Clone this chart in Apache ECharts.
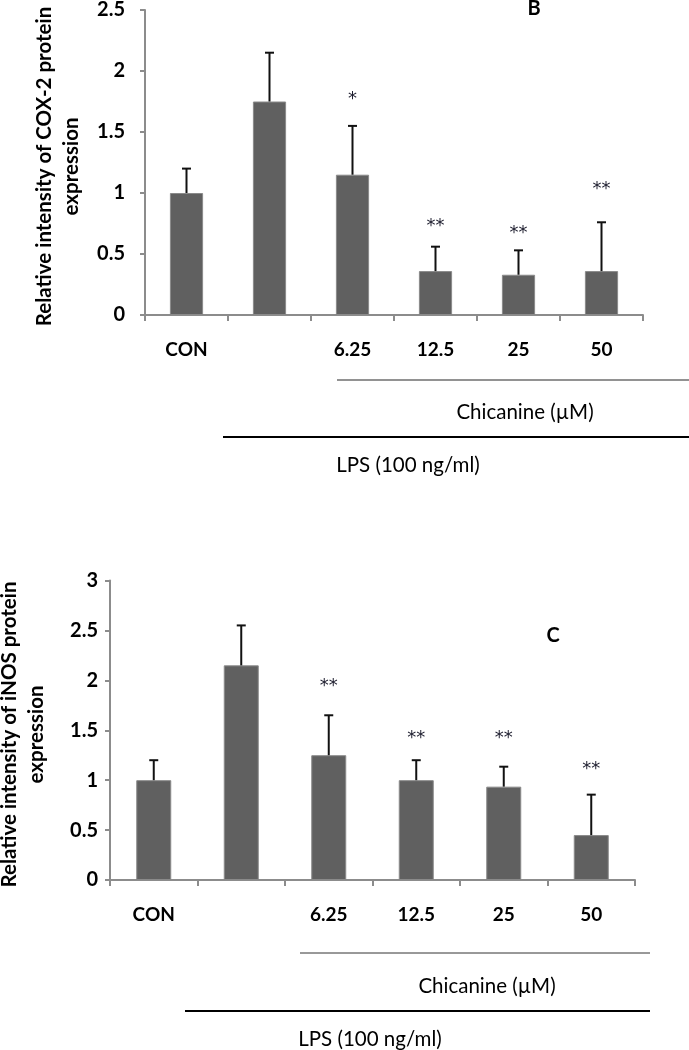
<!DOCTYPE html>
<html>
<head>
<meta charset="utf-8">
<script src="https://cdn.jsdelivr.net/npm/echarts@6/dist/echarts.min.js"></script>
<style>
html,body{margin:0;padding:0;background:#fff;}
#c{width:689px;height:1050px;}
</style>
</head>
<body>
<div id="c"></div>
<script>
// ---- data ----
const categories = ['CON', '', '6.25', '12.5', '25', '50'];
const cox2Values = [1.0, 1.75, 1.15, 0.36, 0.33, 0.36];
const cox2Errors = [0.2, 0.40, 0.40, 0.20, 0.20, 0.40];
const cox2Stars = ['', '', '*', '**', '**', '**'];
const cox2StarY = [0, 0, 1.80, 0.76, 0.70, 1.06];
const inosValues = [1.0, 2.15, 1.25, 1.0, 0.935, 0.45];
const inosErrors = [0.2, 0.40, 0.40, 0.2, 0.20, 0.405];
const inosStars = ['', '', '**', '**', '**', '**'];
const inosStarY = [0, 0, 1.98, 1.46, 1.46, 1.145];
const cox2Ticks = {min: 0, max: 2.5, interval: 0.5};
const inosTicks = {min: 0, max: 3, interval: 0.5};
const cox2Title = 'Relative intensity of COX-2 protein\nexpression';
const inosTitle = 'Relative intensity of iNOS protein\nexpression';
const chicanineLabel = 'Chicanine (\u00b5M)';
const lpsLabel = 'LPS (100 ng/ml)';

const FONT = 'Lato, "Open Sans", sans-serif';
const STARFONT = '"DejaVu Sans", sans-serif';
const chart = echarts.init(document.getElementById('c'), null, {renderer: 'canvas'});

function errRender(params, api) {
  const x = api.value(0), v = api.value(1), e = api.value(2);
  const b = api.coord([x, v]);
  const t = api.coord([x, v + e]);
  const hw = 4.5;
  return {type: 'group', children: [
    {type: 'line', shape: {x1: b[0], y1: b[1], x2: t[0], y2: t[1]}, style: {stroke: '#111', lineWidth: 2}},
    {type: 'line', shape: {x1: t[0] - hw, y1: t[1], x2: t[0] + hw, y2: t[1]}, style: {stroke: '#111', lineWidth: 2}}
  ]};
}
function starRender(params, api) {
  const x = api.value(0), y = api.value(1);
  const s = api.value(2);
  if (!s) return null;
  const p = api.coord([x, y]);
  return {type: 'text', x: p[0], y: p[1] + 4, style: {text: s, align: 'center', verticalAlign: 'middle', font: '18px ' + STARFONT, fill: '#1d1d2e'}};
}

function xAxis(gridIndex) {
  return {
    type: 'category', gridIndex, data: categories,
    axisLine: {lineStyle: {color: '#8c8c8c', width: 2}},
    axisTick: {show: true, alignWithLabel: false, length: 6, lineStyle: {color: '#8c8c8c', width: 2}},
    axisLabel: {margin: 25, fontFamily: FONT, fontWeight: 'bold', fontSize: 19, color: '#000', interval: 0}
  };
}
function yAxis(gridIndex, ticks, margin) {
  return {
    type: 'value', gridIndex, min: ticks.min, max: ticks.max, interval: ticks.interval,
    splitLine: {show: false},
    axisLine: {show: true, lineStyle: {color: '#8c8c8c', width: 2}},
    axisTick: {show: true, length: 5, lineStyle: {color: '#8c8c8c', width: 2}},
    axisLabel: {margin, fontFamily: FONT, fontWeight: 'bold', fontSize: 20, color: '#000'}
  };
}

const barStyle = {color: '#606060', borderColor: '#8a8a8a', borderWidth: 1};

chart.setOption({
  animation: false,
  backgroundColor: '#fff',
  grid: [
    {left: 145, width: 498, top: 7, height: 308},
    {left: 110, width: 525, top: 580.5, height: 299.5}
  ],
  xAxis: [xAxis(0), xAxis(1)],
  yAxis: [yAxis(0, cox2Ticks, 20), yAxis(1, inosTicks, 12)],
  series: [
    {type: 'bar', xAxisIndex: 0, yAxisIndex: 0, data: cox2Values, barWidth: '40%', itemStyle: barStyle},
    {type: 'custom', xAxisIndex: 0, yAxisIndex: 0, renderItem: errRender, encode: {x: 0, y: 1},
      data: cox2Values.map((v, i) => [i, v, cox2Errors[i]]), z: 3},
    {type: 'custom', xAxisIndex: 0, yAxisIndex: 0, renderItem: starRender, encode: {x: 0, y: 1},
      data: cox2Stars.map((s, i) => [i, cox2StarY[i], s]), z: 4},
    {type: 'bar', xAxisIndex: 1, yAxisIndex: 1, data: inosValues, barWidth: '40%', itemStyle: barStyle},
    {type: 'custom', xAxisIndex: 1, yAxisIndex: 1, renderItem: errRender, encode: {x: 0, y: 1},
      data: inosValues.map((v, i) => [i, v, inosErrors[i]]), z: 3},
    {type: 'custom', xAxisIndex: 1, yAxisIndex: 1, renderItem: starRender, encode: {x: 0, y: 1},
      data: inosStars.map((s, i) => [i, inosStarY[i], s]), z: 4}
  ],
  graphic: [
    {type: 'text', x: 58, y: 166.5, rotation: Math.PI / 2,
      style: {text: cox2Title, align: 'center', verticalAlign: 'middle', font: 'bold 20.5px ' + FONT, lineHeight: 27, fill: '#000'}},
    {type: 'text', x: 23, y: 734.5, rotation: Math.PI / 2,
      style: {text: inosTitle, align: 'center', verticalAlign: 'middle', font: 'bold 20.5px ' + FONT, lineHeight: 27, fill: '#000'}},
    {type: 'text', x: 534, y: 9, style: {text: 'B', align: 'center', verticalAlign: 'middle', font: 'bold 20px ' + FONT, fill: '#000'}},
    {type: 'text', x: 553, y: 636, style: {text: 'C', align: 'center', verticalAlign: 'middle', font: 'bold 20px ' + FONT, fill: '#000'}},
    // top brackets
    {type: 'line', shape: {x1: 337, y1: 380, x2: 689, y2: 380}, style: {stroke: '#6e6e6e', lineWidth: 1.5}},
    {type: 'text', x: 525, y: 412, style: {text: chicanineLabel, align: 'center', verticalAlign: 'middle', font: '20.5px ' + FONT, fill: '#000'}},
    {type: 'line', shape: {x1: 223, y1: 437, x2: 689, y2: 437}, style: {stroke: '#000', lineWidth: 2}},
    {type: 'text', x: 408, y: 465, style: {text: lpsLabel, align: 'center', verticalAlign: 'middle', font: '20.5px ' + FONT, fill: '#000'}},
    // bottom brackets
    {type: 'line', shape: {x1: 300, y1: 953, x2: 650, y2: 953}, style: {stroke: '#333', lineWidth: 1}},
    {type: 'text', x: 487, y: 986, style: {text: chicanineLabel, align: 'center', verticalAlign: 'middle', font: '20.5px ' + FONT, fill: '#000'}},
    {type: 'line', shape: {x1: 185, y1: 1011, x2: 650, y2: 1011}, style: {stroke: '#000', lineWidth: 2}},
    {type: 'text', x: 370, y: 1039, style: {text: lpsLabel, align: 'center', verticalAlign: 'middle', font: '20.5px ' + FONT, fill: '#000'}}
  ]
});
</script>
</body>
</html>
